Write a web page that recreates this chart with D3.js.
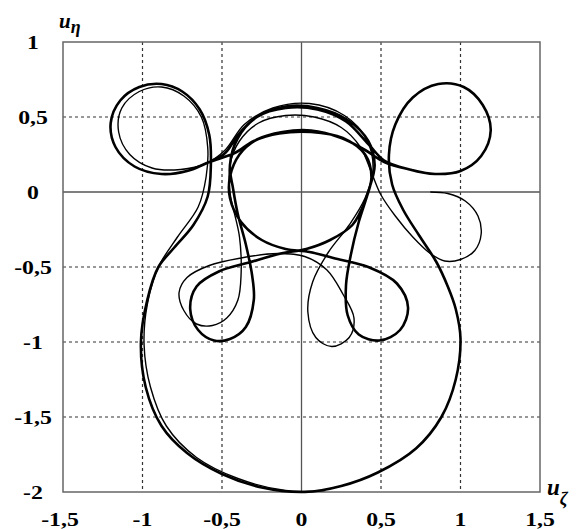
<!DOCTYPE html>
<html lang="en">
<head>
<meta charset="UTF-8">
<title>Hodograph</title>
<script src="https://d3js.org/d3.v7.min.js"></script>
<style>
  body { margin: 0; background: #fff; }
  .tick-label { font-family: "Liberation Serif", "Times New Roman", serif; font-weight: bold; font-size: 19px; }
  .axis-title { font-family: "Liberation Serif", "Times New Roman", serif; font-weight: bold; font-style: italic; }
</style>
</head>
<body>
<script>
// tick values and labels
const xTicks = [-1.5, -1, -0.5, 0, 0.5, 1, 1.5];
const yTicks = [1, 0.5, 0, -0.5, -1, -1.5, -2];
const fmt = v => String(v).replace(".", ",");

// thick trajectory
// right tail -> low arch -> circle bottom -> lower right loop -> upper arc
const archA = [
  [0.68,0.15],[0.52,0.2],[0.4,0.28],[0.25,0.36],[0.06,0.41],[-0.12,0.4],[-0.28,0.35],[-0.39,0.25],[-0.45,0.1],[-0.45,-0.04],
  [-0.38,-0.2],[-0.25,-0.32],[-0.1,-0.38],[0.05,-0.4],[0.2,-0.44],[0.42,-0.5],[0.6,-0.61],[0.67,-0.77],[0.62,-0.92],[0.49,-0.99],
  [0.36,-0.95],[0.29,-0.82],[0.28,-0.62],[0.31,-0.42],[0.36,-0.2],[0.42,0.0],[0.46,0.18],[0.42,0.34],[0.29,0.48],[0.1,0.56],
  [-0.1,0.57],[-0.28,0.5],[-0.4,0.38],[-0.48,0.26]
];
// left loop -> big lower arc -> right loop
const outerFlower = [
  [-0.58,0.2],[-0.72,0.14],[-0.88,0.12],[-1.05,0.17],[-1.17,0.3],[-1.2,0.46],[-1.14,0.61],[-1.02,0.7],[-0.88,0.72],[-0.75,0.67],
  [-0.64,0.55],[-0.58,0.38],[-0.57,0.18],[-0.59,-0.03],[-0.68,-0.22],[-0.8,-0.37],[-0.9,-0.5],[-0.97,-0.72],[-1.01,-1.0],[-0.98,-1.3],
  [-0.88,-1.56],[-0.72,-1.74],[-0.5,-1.88],[-0.25,-1.97],[0.02,-2.0],[0.25,-1.96],[0.48,-1.87],[0.72,-1.71],[0.88,-1.5],[0.97,-1.25],
  [1.0,-0.98],[0.97,-0.78],[0.92,-0.63],[0.85,-0.47],[0.74,-0.29],[0.64,-0.12],[0.57,0.05],[0.55,0.25],[0.59,0.45],[0.7,0.63],
  [0.86,0.72],[1.02,0.7],[1.14,0.58],[1.19,0.41],[1.13,0.24],[1.0,0.14],[0.84,0.12]
];
// right tail -> upper arc -> lower left loop -> circle bottom -> low arch
const archB = [
  [0.68,0.15],[0.52,0.21],[0.42,0.32],[0.28,0.47],[0.1,0.55],[-0.1,0.56],[-0.28,0.5],[-0.4,0.36],[-0.45,0.18],[-0.43,0.02],
  [-0.4,-0.15],[-0.35,-0.35],[-0.31,-0.56],[-0.3,-0.72],[-0.35,-0.9],[-0.45,-0.98],[-0.55,-0.99],[-0.65,-0.92],[-0.7,-0.78],[-0.66,-0.63],
  [-0.52,-0.53],[-0.33,-0.47],[-0.13,-0.41],[0.03,-0.38],[0.18,-0.32],[0.32,-0.22],[0.4,-0.06],[0.44,0.1],[0.4,0.25],[0.26,0.36],
  [0.06,0.4],[-0.14,0.39],[-0.3,0.34],[-0.42,0.26]
];

// thin trajectory (open, starts at the small loop on the right)
const thinTrack = [
  [0.81,0.0],[0.92,-0.01],[1.03,-0.06],[1.11,-0.16],[1.13,-0.28],[1.09,-0.39],[1.0,-0.45],[0.9,-0.46],[0.81,-0.41],[0.7,-0.3],
  [0.59,-0.16],[0.5,-0.02],[0.44,0.13],[0.37,0.3],[0.25,0.43],[0.08,0.5],[-0.1,0.51],[-0.27,0.46],[-0.39,0.34],[-0.45,0.18],
  [-0.45,0.0],[-0.39,-0.3],[-0.38,-0.55],[-0.4,-0.72],[-0.47,-0.84],[-0.56,-0.89],[-0.66,-0.88],[-0.74,-0.79],[-0.77,-0.67],[-0.72,-0.57],
  [-0.58,-0.49],[-0.38,-0.44],[-0.15,-0.41],[0.02,-0.43],[0.16,-0.52],[0.26,-0.68],[0.33,-0.84],[0.3,-0.97],[0.19,-1.03],[0.09,-0.97],
  [0.04,-0.8],[0.07,-0.6],[0.17,-0.4],[0.3,-0.22],[0.4,-0.04],[0.45,0.15],[0.41,0.35],[0.27,0.51],[0.05,0.59],[-0.18,0.56],
  [-0.36,0.45],[-0.48,0.28],[-0.6,0.19],[-0.76,0.15],[-0.94,0.16],[-1.08,0.25],[-1.15,0.4],[-1.13,0.56],[-1.02,0.67],[-0.88,0.7],
  [-0.74,0.64],[-0.63,0.5],[-0.59,0.3],[-0.6,0.1],[-0.65,-0.1],[-0.78,-0.3],[-0.9,-0.5],[-0.97,-0.75],[-0.99,-1.02],[-0.95,-1.3],
  [-0.85,-1.56],[-0.66,-1.77],[-0.4,-1.91],[-0.1,-1.99],[0.15,-1.99]
];

const thickTrack = [].concat(archA, outerFlower, archB, outerFlower);

const width = 584, height = 529;
const plotLeft = 63, plotRight = 540, plotTop = 42, plotBottom = 492;

const svg = d3.select("body").append("svg")
  .attr("width", width)
  .attr("height", height);

svg.append("rect").attr("width", width).attr("height", height).attr("fill", "#fff");

const x = d3.scaleLinear().domain([-1.5, 1.5]).range([plotLeft, plotRight]);
const y = d3.scaleLinear().domain([-2, 1]).range([plotBottom, plotTop]);

// dotted grid
svg.append("g")
  .selectAll("line")
  .data(xTicks.filter(v => v !== 0 && Math.abs(v) !== 1.5))
  .enter().append("line")
  .attr("x1", d => x(d)).attr("x2", d => x(d))
  .attr("y1", plotTop).attr("y2", plotBottom)
  .attr("stroke", "#333").attr("stroke-width", 1.2).attr("stroke-dasharray", "3,3");

svg.append("g")
  .selectAll("line")
  .data(yTicks.filter(v => v !== 0 && v !== 1 && v !== -2))
  .enter().append("line")
  .attr("x1", plotLeft).attr("x2", plotRight)
  .attr("y1", d => y(d)).attr("y2", d => y(d))
  .attr("stroke", "#333").attr("stroke-width", 1.2).attr("stroke-dasharray", "3,3");

// zero lines
svg.append("line")
  .attr("x1", x(0)).attr("x2", x(0)).attr("y1", plotTop).attr("y2", plotBottom)
  .attr("stroke", "#555").attr("stroke-width", 1.3);
svg.append("line")
  .attr("x1", plotLeft).attr("x2", plotRight).attr("y1", y(0)).attr("y2", y(0))
  .attr("stroke", "#555").attr("stroke-width", 1.3);

// frame
svg.append("rect")
  .attr("x", plotLeft).attr("y", plotTop)
  .attr("width", plotRight - plotLeft).attr("height", plotBottom - plotTop)
  .attr("fill", "none").attr("stroke", "#666").attr("stroke-width", 1.5);

// curves
const line = d3.line()
  .x(d => x(d[0]))
  .y(d => y(d[1]));

svg.append("path")
  .datum(thinTrack)
  .attr("d", line.curve(d3.curveCatmullRom.alpha(0.5)))
  .attr("fill", "none").attr("stroke", "#000").attr("stroke-width", 1.4)
  .attr("stroke-linejoin", "round");

svg.append("path")
  .datum(thickTrack)
  .attr("d", line.curve(d3.curveCatmullRomClosed.alpha(0.5)))
  .attr("fill", "none").attr("stroke", "#000").attr("stroke-width", 2.6)
  .attr("stroke-linejoin", "round");

// tick labels (the print is a bit stretched sideways)
svg.append("g")
  .selectAll("g")
  .data(yTicks)
  .enter().append("g")
  .attr("transform", d => "translate(33," + (y(d) + 7) + ")")
  .append("text")
  .attr("class", "tick-label")
  .attr("text-anchor", "middle")
  .attr("transform", "scale(1.25,1)")
  .text(fmt);

svg.append("g")
  .selectAll("g")
  .data(xTicks)
  .enter().append("g")
  .attr("transform", d => "translate(" + (x(d) - (d === -1.5 ? 3 : 0)) + ",526)")
  .append("text")
  .attr("class", "tick-label")
  .attr("text-anchor", "middle")
  .attr("transform", "scale(1.25,1)")
  .text(fmt);

// axis titles
const yTitle = svg.append("text")
  .attr("class", "axis-title")
  .attr("x", 59).attr("y", 28)
  .style("font-size", "21px");
yTitle.append("tspan").text("u");
yTitle.append("tspan").attr("dy", 5).style("font-size", "18px").text("η");

const xTitle = svg.append("text")
  .attr("class", "axis-title")
  .attr("x", 547).attr("y", 495)
  .style("font-size", "23px");
xTitle.append("tspan").text("u");
xTitle.append("tspan").attr("dy", 10).style("font-size", "18px").text("ζ");
</script>
</body>
</html>
